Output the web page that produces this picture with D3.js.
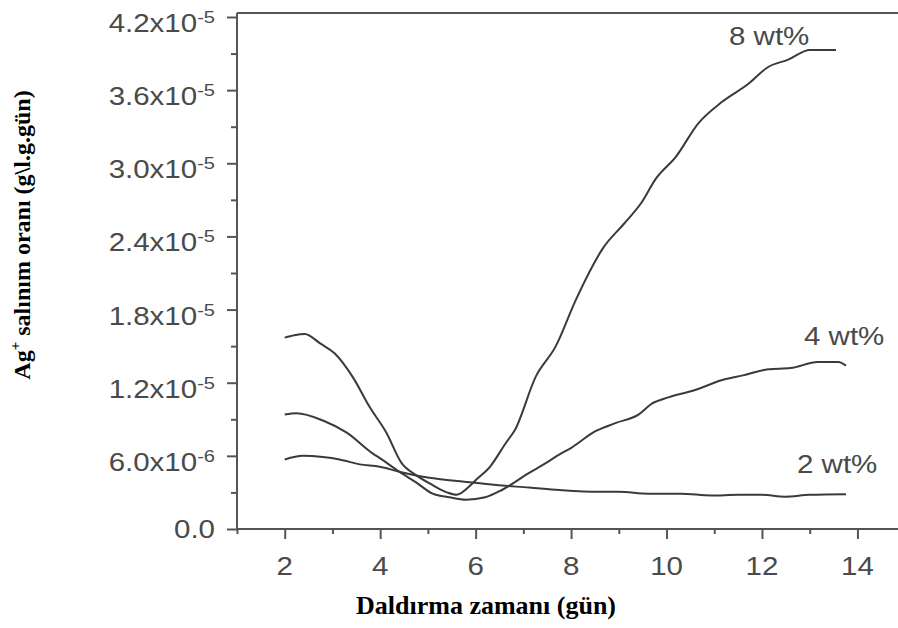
<!DOCTYPE html>
<html>
<head>
<meta charset="utf-8">
<script src="https://cdn.jsdelivr.net/npm/d3@7"></script>
<style>
  html, body { margin: 0; padding: 0; background: #fff; }
  svg { display: block; }
</style>
</head>
<body>
<svg id="chart" width="898" height="628"></svg>
<script>
// ---- data (values in units of 1e-6 g/l.g.gün) ----
const xTicks = [2, 4, 6, 8, 10, 12, 14];
const xMinorTicks = [1, 3, 5, 7, 9, 11, 13];
const yTicks = [0, 6, 12, 18, 24, 30, 36, 42];
const yTickMain = ["0.0", "6.0x10", "1.2x10", "1.8x10", "2.4x10", "3.0x10", "3.6x10", "4.2x10"];
const yTickExp = ["", "-6", "-5", "-5", "-5", "-5", "-5", "-5"];
const yMinorTicks = [3, 9, 15, 21, 27, 33, 39];

const days8 = [2.0, 2.2, 2.42, 2.75, 3.05, 3.42, 3.78, 4.13, 4.45, 4.76, 5.1, 5.4, 5.6, 5.87, 6.0, 6.3, 6.64, 6.82, 7.26, 7.68, 8.1, 8.68, 9.1, 9.48, 9.77, 10.19, 10.67, 11.15, 11.71, 12.13, 12.55, 13.0, 13.55];
const vals8 = [15.7, 15.9, 16.0, 15.2, 14.4, 12.5, 10.0, 7.9, 5.4, 4.4, 3.6, 3.0, 2.8, 3.5, 4.0, 5.1, 7.1, 8.1, 12.5, 15.0, 18.8, 23.1, 25.0, 26.8, 28.7, 30.5, 33.3, 35.0, 36.5, 37.9, 38.5, 39.3, 39.3];

const days4 = [2.0, 2.25, 2.8, 3.3, 3.84, 4.0, 4.4, 4.76, 5.1, 5.45, 5.8, 6.2, 6.55, 7.12, 7.47, 7.75, 8.02, 8.5, 8.94, 9.42, 9.7, 10.04, 10.6, 11.15, 11.6, 12.13, 12.6, 13.17, 13.6, 13.76];
const vals4 = [9.4, 9.5, 8.9, 7.9, 6.2, 5.8, 4.7, 3.8, 2.9, 2.6, 2.4, 2.6, 3.2, 4.6, 5.4, 6.1, 6.7, 8.0, 8.7, 9.4, 10.3, 10.8, 11.4, 12.2, 12.6, 13.1, 13.2, 13.7, 13.7, 13.4];

const days2 = [2.0, 2.38, 2.8, 3.15, 3.57, 3.99, 4.4, 5.03, 5.72, 6.43, 7.12, 7.75, 8.58, 9.0, 9.62, 10.3, 10.94, 11.5, 12.0, 12.48, 13.0, 13.76];
const vals2 = [5.7, 6.0, 5.9, 5.7, 5.3, 5.1, 4.7, 4.2, 3.9, 3.6, 3.4, 3.2, 3.05, 3.05, 2.9, 2.9, 2.75, 2.8, 2.8, 2.65, 2.8, 2.85];

const seriesNames = ["8 wt%", "4 wt%", "2 wt%"];
const xTitle = "Daldırma zamanı (gün)";

// ---- drawing ----
const svg = d3.select("#chart");
const x = d3.scaleLinear().domain([1, 14.85]).range([237, 898]);
const y = d3.scaleLinear().domain([0, 42]).range([529, 17]);

const axisColor = "#555";
const textColor = "#4a4a4a";
const sx = 1.18;
const sans = "'Liberation Sans', Arial, Helvetica, sans-serif";

// top border
svg.append("line").attr("x1", x(1)).attr("x2", 898).attr("y1", 13).attr("y2", 13)
  .attr("stroke", axisColor).attr("stroke-width", 2);

// y axis
const gy = svg.append("g").attr("transform", `translate(${x(1)},0)`);
gy.call(d3.axisLeft(y).tickValues(yTicks).tickSize(10).tickFormat(""));
const gyMinor = svg.append("g").attr("transform", `translate(${x(1)},0)`);
gyMinor.call(d3.axisLeft(y).tickValues(yMinorTicks).tickSize(6).tickFormat(""));
[gy, gyMinor].forEach(g => {
  g.select(".domain").attr("d", `M0,13V${y(0)}`).attr("stroke", axisColor).attr("stroke-width", 2);
  g.selectAll(".tick line").attr("stroke", axisColor).attr("stroke-width", 2);
});

// y tick labels
yTicks.forEach((v, i) => {
  const t = svg.append("text")
    .attr("text-anchor", "end")
    .attr("transform", `translate(215,${y(v) + (yTickExp[i] ? 15 : 9)}) scale(${sx},1)`)
    .attr("font-family", sans).attr("font-size", 25).attr("fill", textColor);
  t.append("tspan").text(yTickMain[i]);
  if (yTickExp[i]) t.append("tspan").attr("font-size", 17).attr("dy", -9).text(yTickExp[i]);
});

// x axis
const gx = svg.append("g").attr("transform", `translate(0,${y(0)})`);
gx.call(d3.axisBottom(x).tickValues(xTicks).tickSize(10).tickFormat(""));
const gxMinor = svg.append("g").attr("transform", `translate(0,${y(0)})`);
gxMinor.call(d3.axisBottom(x).tickValues(xMinorTicks).tickSize(5).tickFormat(""));
[gx, gxMinor].forEach(g => {
  g.select(".domain").attr("d", `M${x(1)},0H898`).attr("stroke", axisColor).attr("stroke-width", 2);
  g.selectAll(".tick line").attr("stroke", axisColor).attr("stroke-width", 2);
});
xTicks.forEach(v => {
  svg.append("text").attr("text-anchor", "middle")
    .attr("transform", `translate(${x(v)},575) scale(${sx},1)`)
    .attr("font-family", sans).attr("font-size", 25).attr("fill", textColor)
    .text(v);
});

// lines
const line = d3.line().x(d => x(d[0])).y(d => y(d[1])).curve(d3.curveMonotoneX);
const series = [
  d3.zip(days8, vals8),
  d3.zip(days4, vals4),
  d3.zip(days2, vals2)
];
svg.append("g").selectAll("path").data(series).join("path")
  .attr("d", line).attr("fill", "none")
  .attr("stroke", "#3a3a3a").attr("stroke-width", 2).attr("stroke-linejoin", "round");

// series labels
const labelPos = [[729, 45], [804, 345], [797, 473]];
seriesNames.forEach((s, i) => {
  svg.append("text")
    .attr("transform", `translate(${labelPos[i][0]},${labelPos[i][1]}) scale(${sx},1)`)
    .attr("font-family", sans).attr("font-size", 25).attr("fill", textColor)
    .text(s);
});

// axis titles
const serif = "'Liberation Serif', 'Times New Roman', serif";
svg.append("text").attr("x", 486).attr("y", 614).attr("text-anchor", "middle")
  .attr("font-family", serif).attr("font-weight", "bold").attr("font-size", 26).attr("fill", "#000")
  .text(xTitle);

const yt = svg.append("text").attr("transform", "translate(30,235) rotate(-90)")
  .attr("text-anchor", "middle")
  .attr("font-family", serif).attr("font-weight", "bold").attr("font-size", 24).attr("fill", "#000");
yt.append("tspan").text("Ag");
yt.append("tspan").attr("font-size", 15).attr("dy", -10).text("+");
yt.append("tspan").attr("dy", 10).text(" salınım oranı (g\\l.g.gün)");
</script>
</body>
</html>
